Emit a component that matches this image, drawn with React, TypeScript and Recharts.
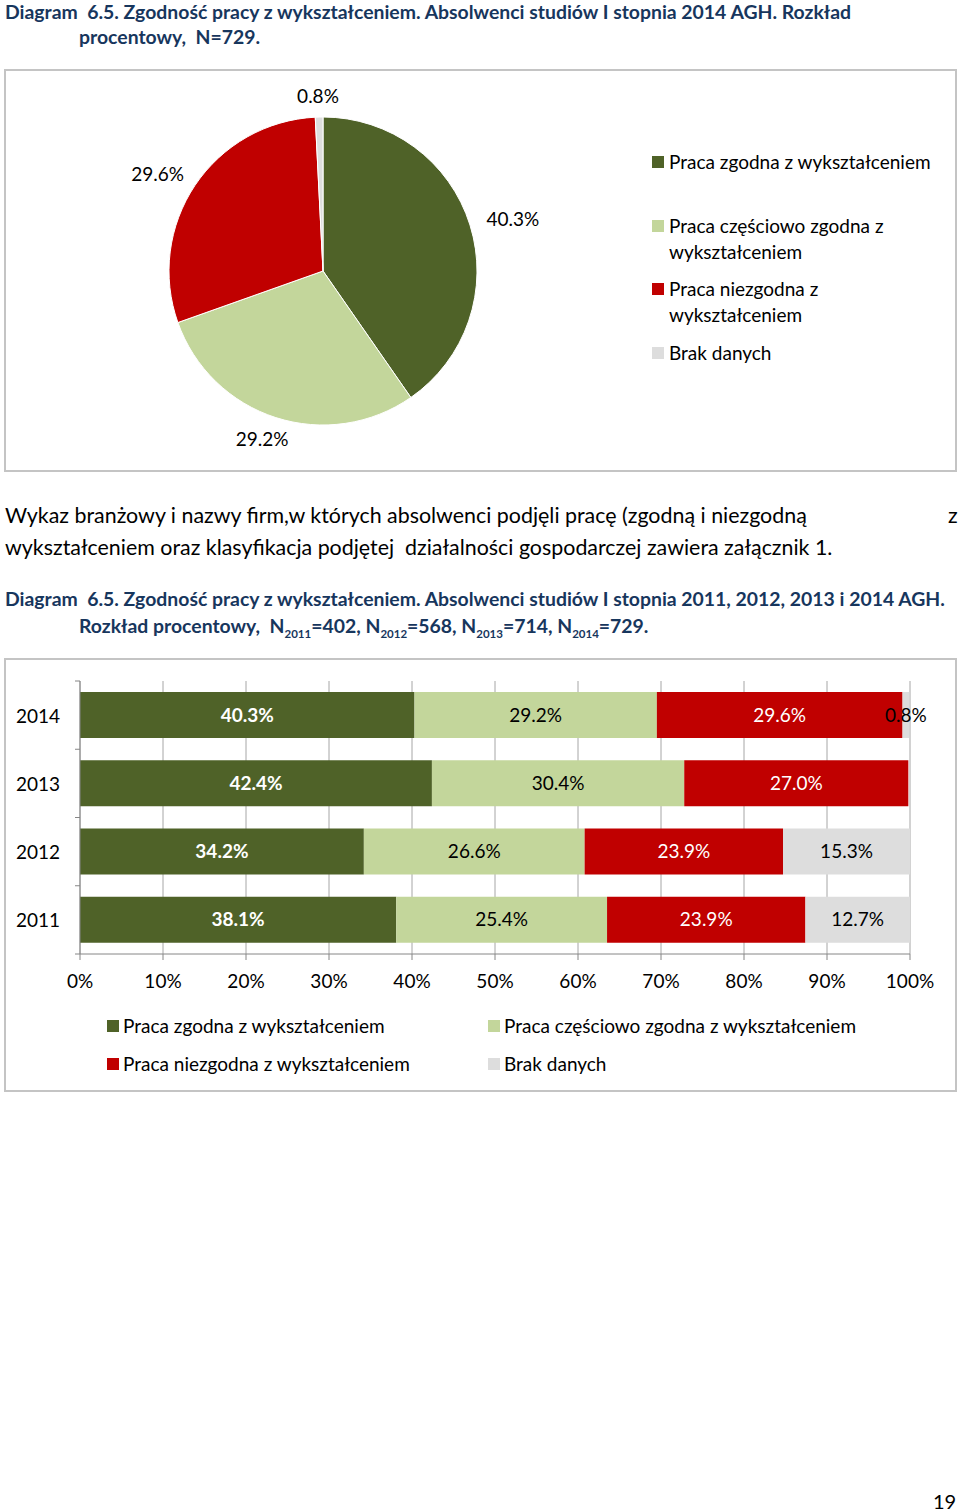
import React from 'react';
import { PieChart, Pie, Cell, Legend, BarChart, Bar, XAxis, YAxis, CartesianGrid, LabelList } from 'recharts';

const seriesNames = [
  'Praca zgodna z wykształceniem',
  'Praca częściowo zgodna z wykształceniem',
  'Praca niezgodna z wykształceniem',
  'Brak danych',
];
const seriesKeys = ['zgodna', 'czesciowo', 'niezgodna', 'brak'];
const seriesColors = ['#4F6228', '#C3D69B', '#C00000', '#DDDDDD'];
const labelColors = ['#FFFFFF', '#000000', '#FFFFFF', '#000000'];
const labelWeights = ['bold', 'normal', 'normal', 'normal'];

const pieValues = [40.3, 29.2, 29.6, 0.8];

const years = ['2014', '2013', '2012', '2011'];
const zgodna = [40.3, 42.4, 34.2, 38.1];
const czesciowo = [29.2, 30.4, 26.6, 25.4];
const niezgodna = [29.6, 27.0, 23.9, 23.9];
const brak = [0.8, 0, 15.3, 12.7];
const xTicks = [0, 10, 20, 30, 40, 50, 60, 70, 80, 90, 100];

const pieData = seriesNames.map((name, i) => ({ name, value: pieValues[i] }));
const barData = years.map((year, i) => ({
  year,
  zgodna: zgodna[i],
  czesciowo: czesciowo[i],
  niezgodna: niezgodna[i],
  brak: brak[i],
}));

const FONT = 'Lato, "Open Sans", sans-serif';
const TITLE_COLOR = '#17365D';
const RAD = Math.PI / 180;

const pieLabel = (props: any) => {
  const { cx, cy, midAngle, outerRadius, value } = props;
  const rx = outerRadius + 45;
  const ry = outerRadius + 22;
  const x = cx + rx * Math.cos(-midAngle * RAD);
  const y = cy + ry * Math.sin(-midAngle * RAD);
  return (
    <text x={x} y={y} textAnchor="middle" dominantBaseline="central" fill="#000" fontSize={19} fontFamily={FONT}>
      {`${value.toFixed(1)}%`}
    </text>
  );
};

const PieLegend = () => (
  <div style={{ fontFamily: FONT, fontSize: 19, color: '#000', lineHeight: '26px' }}>
    {seriesNames.map((name, i) => (
      <div key={name} style={{ height: 63.5, display: 'flex', alignItems: 'flex-start' }}>
        <span style={{ display: 'inline-block', width: 12, height: 12, background: seriesColors[i], marginTop: 7, marginRight: 5, flex: 'none' }} />
        <span style={{ width: 270 }}>{name}</span>
      </div>
    ))}
  </div>
);

const BarLegend = () => (
  <div style={{ fontFamily: FONT, fontSize: 19, color: '#000', display: 'grid', gridTemplateColumns: '381px 381px', rowGap: 12, lineHeight: '26px' }}>
    {seriesNames.map((name, i) => (
      <div key={name} style={{ display: 'flex', alignItems: 'center' }}>
        <span style={{ display: 'inline-block', width: 12, height: 12, background: seriesColors[i], marginRight: 4 }} />
        <span>{name}</span>
      </div>
    ))}
  </div>
);

const PLOT_H = 273;
const YTick = (props: any) => {
  const { x, y, payload, index } = props;
  const half = PLOT_H / years.length / 2;
  const ax = x + 8;
  return (
    <g>
      <text x={x - 12} y={y} textAnchor="end" dominantBaseline="central" fill="#000" fontSize={19} fontFamily={FONT}>
        {payload.value}
      </text>
      <line x1={ax - 5} x2={ax} y1={y - half} y2={y - half} stroke="#868686" />
      {index === years.length - 1 && <line x1={ax - 5} x2={ax} y1={y + half} y2={y + half} stroke="#868686" />}
    </g>
  );
};

const boxStyle: React.CSSProperties = {
  position: 'absolute',
  outline: '2px solid #C4C4C4',
  outlineOffset: -2,
  background: '#fff',
};

const abs = (left: number, top: number, extra: React.CSSProperties = {}): React.CSSProperties => ({
  position: 'absolute',
  left,
  top,
  whiteSpace: 'nowrap',
  ...extra,
});

const titleStyle: React.CSSProperties = { fontFamily: FONT, fontWeight: 'bold', fontSize: 19.4, color: TITLE_COLOR, lineHeight: '26px' };
const bodyStyle: React.CSSProperties = { fontFamily: FONT, fontSize: 21.4, color: '#000', lineHeight: '30px' };
const subStyle: React.CSSProperties = { fontSize: 11.5 };

export default function App() {
  return (
    <div style={{ position: 'absolute', left: 0, top: 0, width: 960, height: 1512, background: '#fff', overflow: 'hidden' }}>
      <div style={abs(5, -1, titleStyle)}>Diagram&nbsp; 6.5. Zgodność pracy z wykształceniem. Absolwenci studiów I stopnia 2014 AGH. Rozkład</div>
      <div style={abs(79, 24, titleStyle)}>procentowy,&nbsp; N=729.</div>

      <div style={{ ...boxStyle, left: 4, top: 69, width: 953, height: 403 }}>
        <PieChart width={953} height={403}>
          <Pie
            data={pieData}
            dataKey="value"
            nameKey="name"
            cx={314}
            cy={197}
            outerRadius={154}
            startAngle={90}
            endAngle={-270}
            stroke="#fff"
            strokeWidth={1}
            label={pieLabel}
            labelLine={false}
            isAnimationActive={false}
          >
            {pieData.map((d, i) => (
              <Cell key={d.name} fill={seriesColors[i]} />
            ))}
          </Pie>
          <Legend
            layout="vertical"
            align="center"
            verticalAlign="middle"
            content={<PieLegend />}
            wrapperStyle={{ position: 'absolute', left: 648, top: 80, width: 300, height: 260 }}
          />
        </PieChart>
      </div>

      <div style={abs(5, 500, bodyStyle)}>Wykaz branżowy i nazwy firm,w których absolwenci podjęli pracę (zgodną i niezgodną</div>
      <div style={abs(948, 500, bodyStyle)}>z</div>
      <div style={abs(5, 532, bodyStyle)}>wykształceniem oraz klasyfikacja podjętej&nbsp; działalności gospodarczej zawiera załącznik 1.</div>

      <div style={abs(5, 586, titleStyle)}>Diagram&nbsp; 6.5. Zgodność pracy z wykształceniem. Absolwenci studiów I stopnia 2011, 2012, 2013 i 2014 AGH.</div>
      <div style={abs(79, 613, titleStyle)}>
        Rozkład procentowy,&nbsp; N<sub style={subStyle}>2011</sub>=402, N<sub style={subStyle}>2012</sub>=568, N<sub style={subStyle}>2013</sub>=714, N<sub style={subStyle}>2014</sub>=729.
      </div>

      <div style={{ ...boxStyle, left: 4, top: 658, width: 953, height: 434 }}>
        <BarChart
          width={953}
          height={434}
          data={barData}
          layout="vertical"
          margin={{ top: 23, right: 47, left: 16, bottom: 108 }}
          barCategoryGap="16%"
        >
          <CartesianGrid horizontal={false} vertical={true} stroke="#A6A6A6" strokeWidth={1} />
          <XAxis
            type="number"
            domain={[0, 100]}
            ticks={xTicks}
            interval={0}
            allowDataOverflow
            tickFormatter={(v: number) => `${v}%`}
            axisLine={{ stroke: '#868686' }}
            tickLine={{ stroke: '#868686' }}
            tickSize={6}
            tickMargin={15}
            height={30}
            tick={{ fill: '#000', fontSize: 19, fontFamily: FONT }}
          />
          <YAxis
            type="category"
            dataKey="year"
            width={60}
            axisLine={{ stroke: '#868686' }}
            tickLine={false}
            tick={<YTick />}
          />
          {seriesKeys.map((k, i) => (
            <Bar key={k} dataKey={k} name={seriesNames[i]} stackId="a" fill={seriesColors[i]} isAnimationActive={false}>
              <LabelList
                dataKey={k}
                position="center"
                fill={labelColors[i]}
                fontSize={19}
                fontFamily={FONT}
                fontWeight={labelWeights[i]}
                formatter={(v: any) => (Number(v) > 0 ? `${Number(v).toFixed(1)}%` : '')}
              />
            </Bar>
          ))}
          <Legend
            layout="vertical"
            align="center"
            verticalAlign="middle"
            content={<BarLegend />}
            wrapperStyle={{ position: 'absolute', left: 103, top: 355, width: 800, height: 80 }}
          />
        </BarChart>
      </div>

      <div style={abs(933, 1488, { fontFamily: FONT, fontSize: 20, color: '#000', lineHeight: '26px' })}>19</div>
    </div>
  );
}
